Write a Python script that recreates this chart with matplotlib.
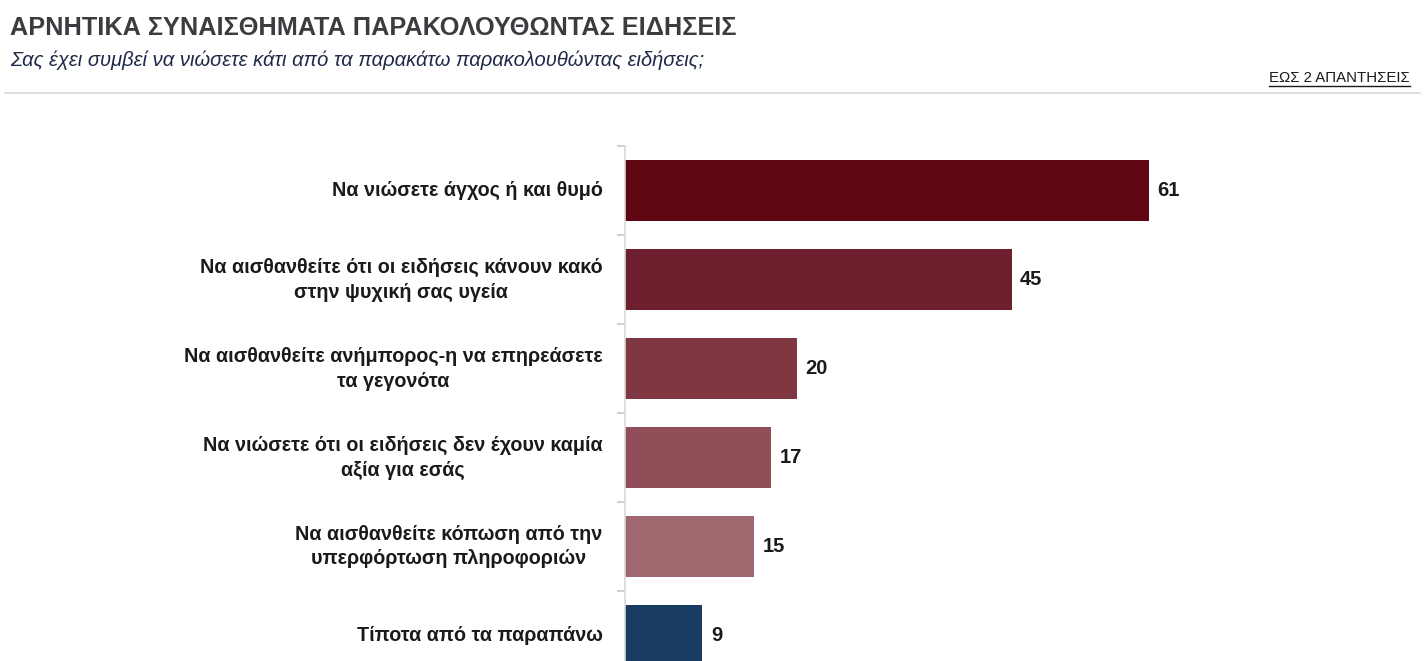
import matplotlib
matplotlib.use("Agg")
import matplotlib.pyplot as plt

plt.rcParams['font.family'] = ['Liberation Sans', 'DejaVu Sans']

# data
labels = [
    "Να νιώσετε άγχος ή και θυμό",
    "Να αισθανθείτε ότι οι ειδήσεις κάνουν κακό\nστην ψυχική σας υγεία",
    "Να αισθανθείτε ανήμπορος-η να επηρεάσετε\nτα γεγονότα",
    "Να νιώσετε ότι οι ειδήσεις δεν έχουν καμία\nαξία για εσάς",
    "Να αισθανθείτε κόπωση από την\nυπερφόρτωση πληροφοριών",
    "Τίποτα από τα παραπάνω",
]
values = [61, 45, 20, 17, 15, 9]
colors = ["#5f0613", "#6e1f2d", "#7f3742", "#8f4e58", "#9e686e", "#193c62"]

title = "ΑΡΝΗΤΙΚΑ ΣΥΝΑΙΣΘΗΜΑΤΑ ΠΑΡΑΚΟΛΟΥΘΩΝΤΑΣ ΕΙΔΗΣΕΙΣ"
subtitle = "Σας έχει συμβεί να νιώσετε κάτι από τα παρακάτω παρακολουθώντας ειδήσεις;"
note = "ΕΩΣ 2 ΑΠΑΝΤΗΣΕΙΣ"

W, H = 1426, 661
fig = plt.figure(figsize=(W / 100, H / 100), dpi=100)

# axes placed in pixel terms (bottom runs below the figure, as in the reference)
left, right, top, bottom = 625, 1420, 146, 680
ax = fig.add_axes([left / W, 1 - bottom / H, (right - left) / W, (bottom - top) / H])

y = list(range(len(values)))
ax.barh(y, values, height=0.675, color=colors)
ax.set_ylim(len(values) - 0.5, -0.5)
ax.set_xlim(0, (right - left) / 8.59)

for yi, v in zip(y, values):
    ax.text(v + 1.0, yi, str(v), va='center', ha='left', fontsize=14.5,
            fontweight='bold', color='#1a1a1a')

ax.set_yticks(y)
ax.set_yticklabels([])
ax.set_yticks([i + 0.5 for i in range(-1, len(values))], minor=True)
ax.tick_params(axis='y', which='major', length=0)
ax.tick_params(axis='y', which='minor', length=6, color='#c8c8c8', width=1.2)
for yi, lab in zip(y, labels):
    ax.text(-2.6, yi, lab, ha='right', va='center', multialignment='center',
            fontsize=14.2, fontweight='bold', color='#1a1a1a', linespacing=1.4)

ax.set_xticks([])
for s in ['top', 'right', 'bottom']:
    ax.spines[s].set_visible(False)
ax.spines['left'].set_color('#d9d9d9')
ax.spines['left'].set_linewidth(1.2)

# header
fig.text(10 / W, 1 - 28 / H, title, fontsize=18.2, fontweight='bold', color='#3d3a40',
         va='center', ha='left')
fig.text(10 / W, 1 - 60 / H, subtitle, fontsize=14.5, style='italic', color='#1f2a48',
         va='center', ha='left')
t = fig.text(1410 / W, 1 - 78 / H, note, fontsize=10.8, color='#1a1a1a',
             va='center', ha='right')
fig.canvas.draw()
bb = t.get_window_extent()
fig.add_artist(plt.Line2D([bb.x0 / W, bb.x1 / W], [(bb.y0 - 1) / H, (bb.y0 - 1) / H],
                          transform=fig.transFigure, color='#1a1a1a', lw=1))
fig.add_artist(plt.Line2D([5 / W, 1420 / W], [1 - 93 / H, 1 - 93 / H],
                          transform=fig.transFigure, color='#d9d9d9', lw=1.2))

fig.savefig("out.png", dpi=100)
